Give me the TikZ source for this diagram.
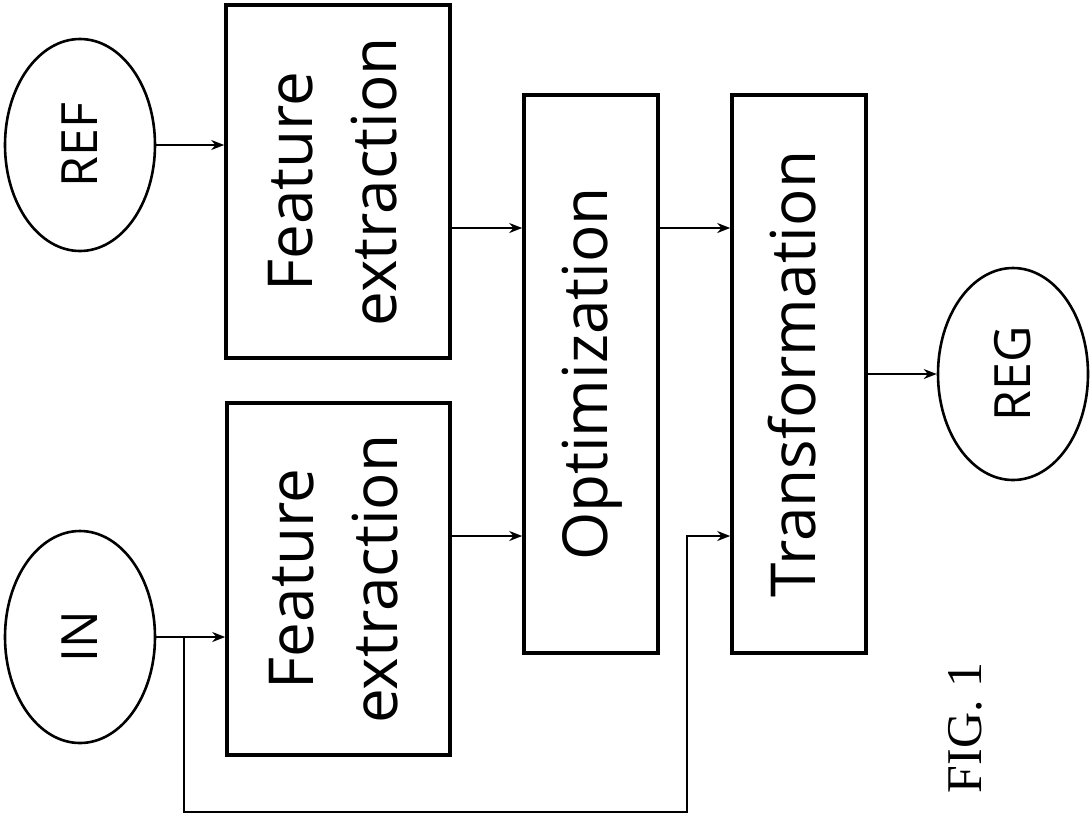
\documentclass[tikz,border=0pt]{standalone}
\usepackage{fontspec}
\setmainfont{Open Sans}
\newfontfamily\figfont{Liberation Serif}
\usepackage{tikz}
\usetikzlibrary{positioning}
\usetikzlibrary{arrows.meta,shapes.geometric}
\newcommand{\uptext}[1]{\rotatebox{90}{\begin{tabular}{@{}c@{}}#1\end{tabular}}}

\begin{document}
\begin{tikzpicture}[->,>={Stealth[length=6.5pt,width=5pt]},line width=1pt,x=0.5pt,y=-0.5pt,
    blk/.style={draw,line width=1.8pt,inner sep=0pt,font=\fontsize{31}{42}\selectfont},
    term/.style={ellipse,draw,line width=1.3pt,inner sep=0pt,minimum width=75pt,minimum height=106pt,font=\fontsize{25}{28}\selectfont}]
      \useasboundingbox (0,0) rectangle (1090,815);
      \node[term] (ref) at (80,145) {\rotatebox{90}{REF}};
      \node[term] (in) at (80,637) {\rotatebox{90}{IN}};
      \node[blk,minimum width=112pt,minimum height=176.5pt] (fe1) at (338,181.5) {\uptext{Feature\\extraction}};
      \node[blk,minimum width=111.5pt,minimum height=176pt] (fe2) at (338.5,579) {\uptext{Feature\\extraction}};
      \node[blk,minimum width=67pt,minimum height=279pt] (opt) at (591,374) {\uptext{Optimization}};
      \node[blk,minimum width=67pt,minimum height=279pt] (trans) at (799,374) {\uptext{Transformation}};
      \node[term] (reg) at (1013,374) {\rotatebox{90}{REG}};
      \node (fig) at (965,728) {\rotatebox{90}{\figfont\fontsize{25}{30}\selectfont FIG.\ 1}};
      % rows of the connectors
      \coordinate (hi) at (0,228);
      \coordinate (lo) at (0,536);
      \coordinate (bot) at (0,812);
      \coordinate (mid) at (687,0);
      \coordinate (split) at ([xshift=14pt]in.east);
      \draw (ref.east) -- (ref.east -| fe1.west);
      \draw (in.east) -- (in.east -| fe2.west);
      \draw (fe1.east |- hi) -- (opt.west |- hi);
      \draw (fe2.east |- lo) -- (opt.west |- lo);
      \draw (opt.east |- hi) -- (trans.west |- hi);
      \draw (trans.east) -- (reg.west);
      \draw (split) -- (split |- bot) -- (mid |- bot) -- (mid |- lo) -- (trans.west |- lo);
\end{tikzpicture}
\end{document}
